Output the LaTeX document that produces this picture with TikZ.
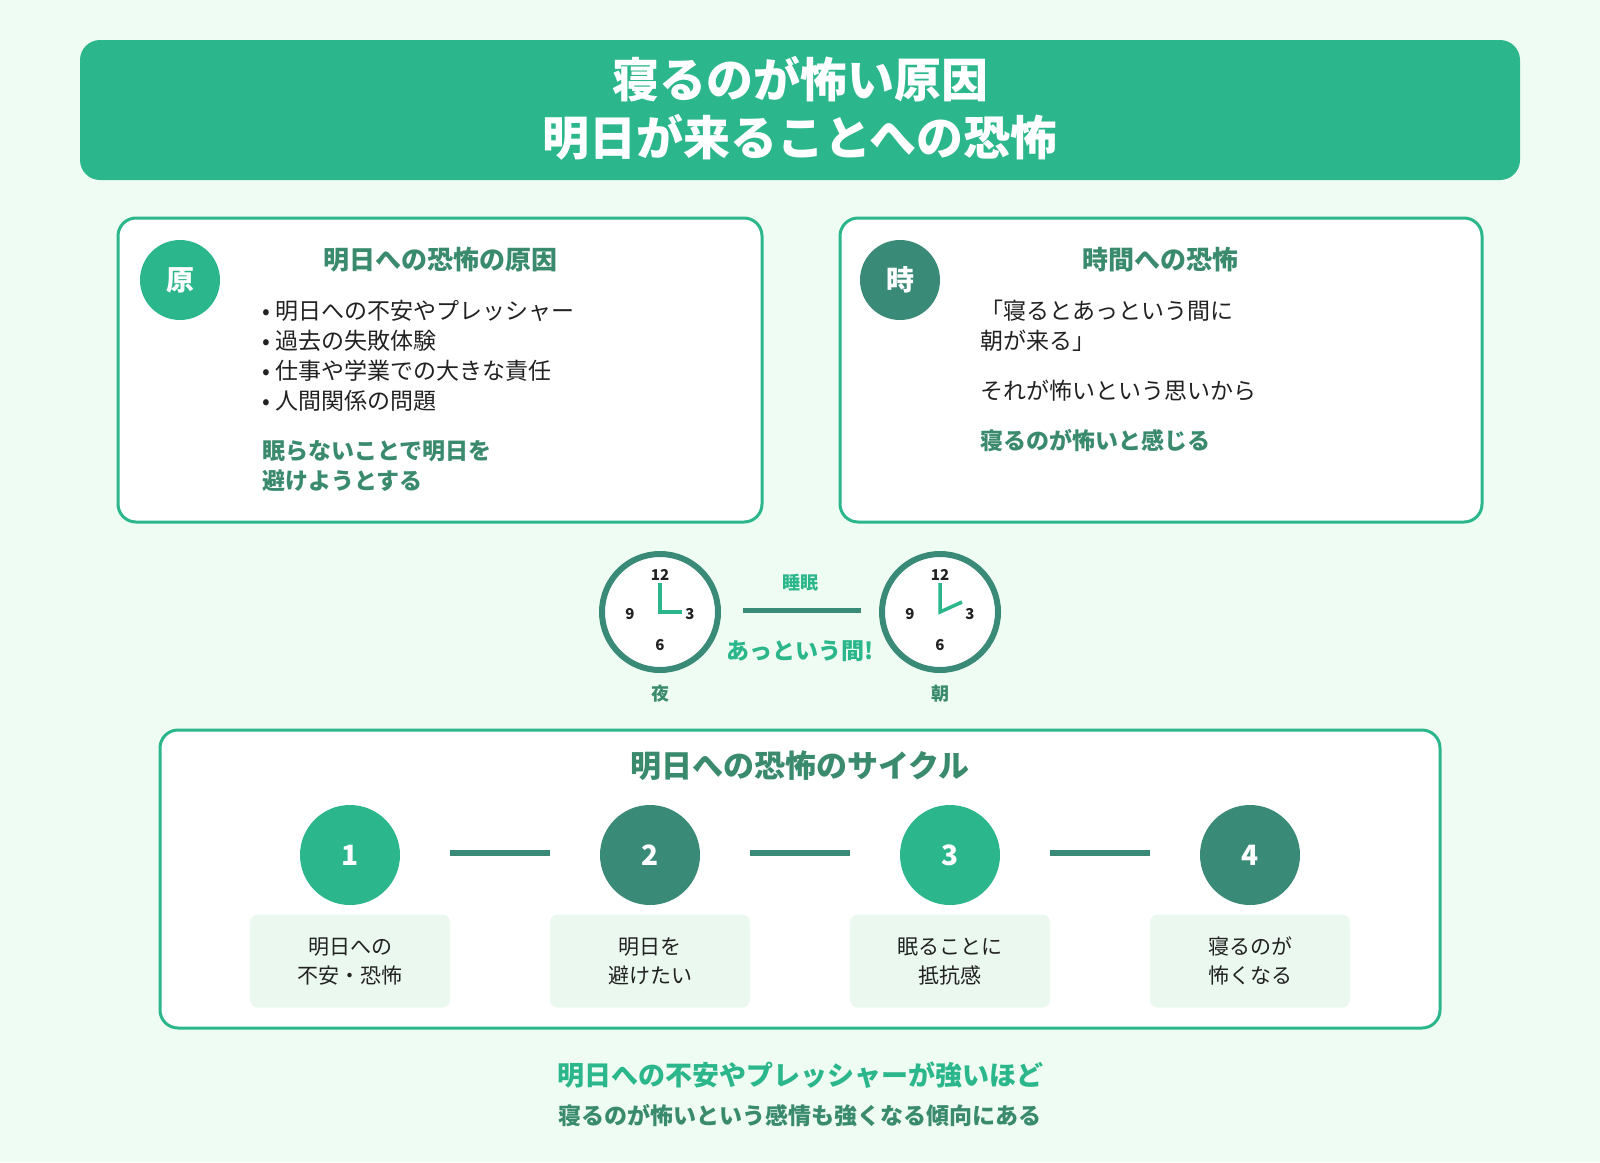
\documentclass[tikz,border=0pt]{standalone}
\usepackage{fontspec}
\setmainfont{Noto Sans CJK JP}
\definecolor{bg}{HTML}{EFFCF3}
\definecolor{gr}{HTML}{2BB78B}
\definecolor{dg}{HTML}{3A8A78}
\definecolor{hd}{HTML}{3A8A6E}
\definecolor{lb}{HTML}{EAF8EF}
\definecolor{tx}{HTML}{222222}
\newcommand{\fs}[1]{\fontsize{#1}{#1}\selectfont}
\tikzset{
 panel/.style={draw=gr,line width=3pt,fill=white,rounded corners=18pt},
 badge/.style={circle,minimum size=80pt,inner sep=0pt,text=white,font=\fs{28}\bfseries},
 head/.style={text=hd,font=\fs{26}\bfseries},
 body/.style={text=tx,font=\fs{23},anchor=west,inner sep=0pt},
 emph/.style={text=gr,font=\fs{23}\bfseries,anchor=west,inner sep=0pt},
 clock/.style={circle,draw=dg,line width=6pt,fill=white,minimum size=116pt,inner sep=0pt},
 num/.style={font=\fs{15}\bfseries,text=tx,inner sep=0pt},
 hand/.style={gr,line width=3.5pt},
 stepc/.style={circle,minimum size=100pt,inner sep=0pt,text=white,font=\fs{28}\bfseries},
 lbl/.style={fill=lb,rounded corners=8pt,minimum width=200pt,minimum height=93pt,align=center,text=tx,font=\fs{21},inner sep=0pt},
 conn/.style={dg,line width=6pt}
}
\begin{document}
\begin{tikzpicture}[x=1pt,y=-1pt]
\fill[bg] (0,0) rectangle (1600,1162);
\useasboundingbox (0,0) rectangle (1600,1162);
% title
\node[fill=gr,rounded corners=20pt,minimum width=1440pt,minimum height=140pt] (title) at (800,110) {};
\node[text=white,font=\fs{47}\bfseries,align=center] (tt) at (800,108) {寝るのが怖い原因\\[11pt]明日が来ることへの恐怖};
% left panel
\draw[panel] (118,218) rectangle (762,522);
\node[badge,fill=gr] (b1) at (180,280) {原};
\node[head] (h1) at (440,260) {明日への恐怖の原因};
\node[body] (l1) at (262,311) {• 明日への不安やプレッシャー};
\node[body] (l2) at (262,341) {• 過去の失敗体験};
\node[body] (l3) at (262,371) {• 仕事や学業での大きな責任};
\node[body] (l4) at (262,401) {• 人間関係の問題};
\node[emph,text=hd] (e1) at (262,451) {眠らないことで明日を};
\node[emph,text=hd] (e2) at (262,481) {避けようとする};
% right panel
\draw[panel] (840,218) rectangle (1482,522);
\node[badge,fill=dg] (b2) at (900,280) {時};
\node[head] (h2) at (1160,260) {時間への恐怖};
\node[body] (r1) at (980,311) {「寝るとあっという間に};
\node[body] (r2) at (980,341) {朝が来る」};
\node[body] (r3) at (980,391) {それが怖いという思いから};
\node[emph,text=hd] (r4) at (980,441) {寝るのが怖いと感じる};
% clocks
\foreach \n/\cx/\lab in {c1/660/夜,c2/940/朝}{
 \node[clock] (\n) at (\cx,612) {};
 \node[num] at (\cx,575) {12};
 \node[num] at (\cx+30,614) {3};
 \node[num] at (\cx,645) {6};
 \node[num] at (\cx-30,614) {9};
 \node[text=hd,font=\fs{18}\bfseries] at (\cx,694) {\lab};
}
\draw[hand] (660,583) -- (660,612) -- (682,612);
\draw[hand] (940,583) -- (940,612) -- (962,602);
\draw[conn,line width=5pt] (c1.east)++(22,-2) coordinate (ca) -- ++(118,0) coordinate (cb);
\node[text=gr,font=\fs{18}\bfseries] (sl) at (800,583) {睡眠};
\node[text=gr,font=\fs{23}\bfseries] (ql) at (800,651) {あっという間!};
% cycle
\draw[panel] (160,730) rectangle (1440,1028);
\node[head,font=\fs{31}\bfseries] (h3) at (800,766) {明日への恐怖のサイクル};
\foreach \i/\x/\c/\t in {1/350/gr/{明日への\\[8pt]不安・恐怖},2/650/dg/{明日を\\[8pt]避けたい},3/950/gr/{眠ることに\\[8pt]抵抗感},4/1250/dg/{寝るのが\\[8pt]怖くなる}}{
 \node[stepc,fill=\c] (s\i) at (\x,855) {\i};
 \node[lbl] (t\i) at (\x,961) {\t};
}
\draw[conn] (s1) ++(100,-2) -- ++(100,0);
\draw[conn] (s2) ++(100,-2) -- ++(100,0);
\draw[conn] (s3) ++(100,-2) -- ++(100,0);
% footer
\node[text=gr,font=\fs{27}\bfseries] (f1) at (800,1075) {明日への不安やプレッシャーが強いほど};
\node[text=hd,font=\fs{23}\bfseries] (f2) at (800,1116) {寝るのが怖いという感情も強くなる傾向にある};
\end{tikzpicture}
\end{document}
